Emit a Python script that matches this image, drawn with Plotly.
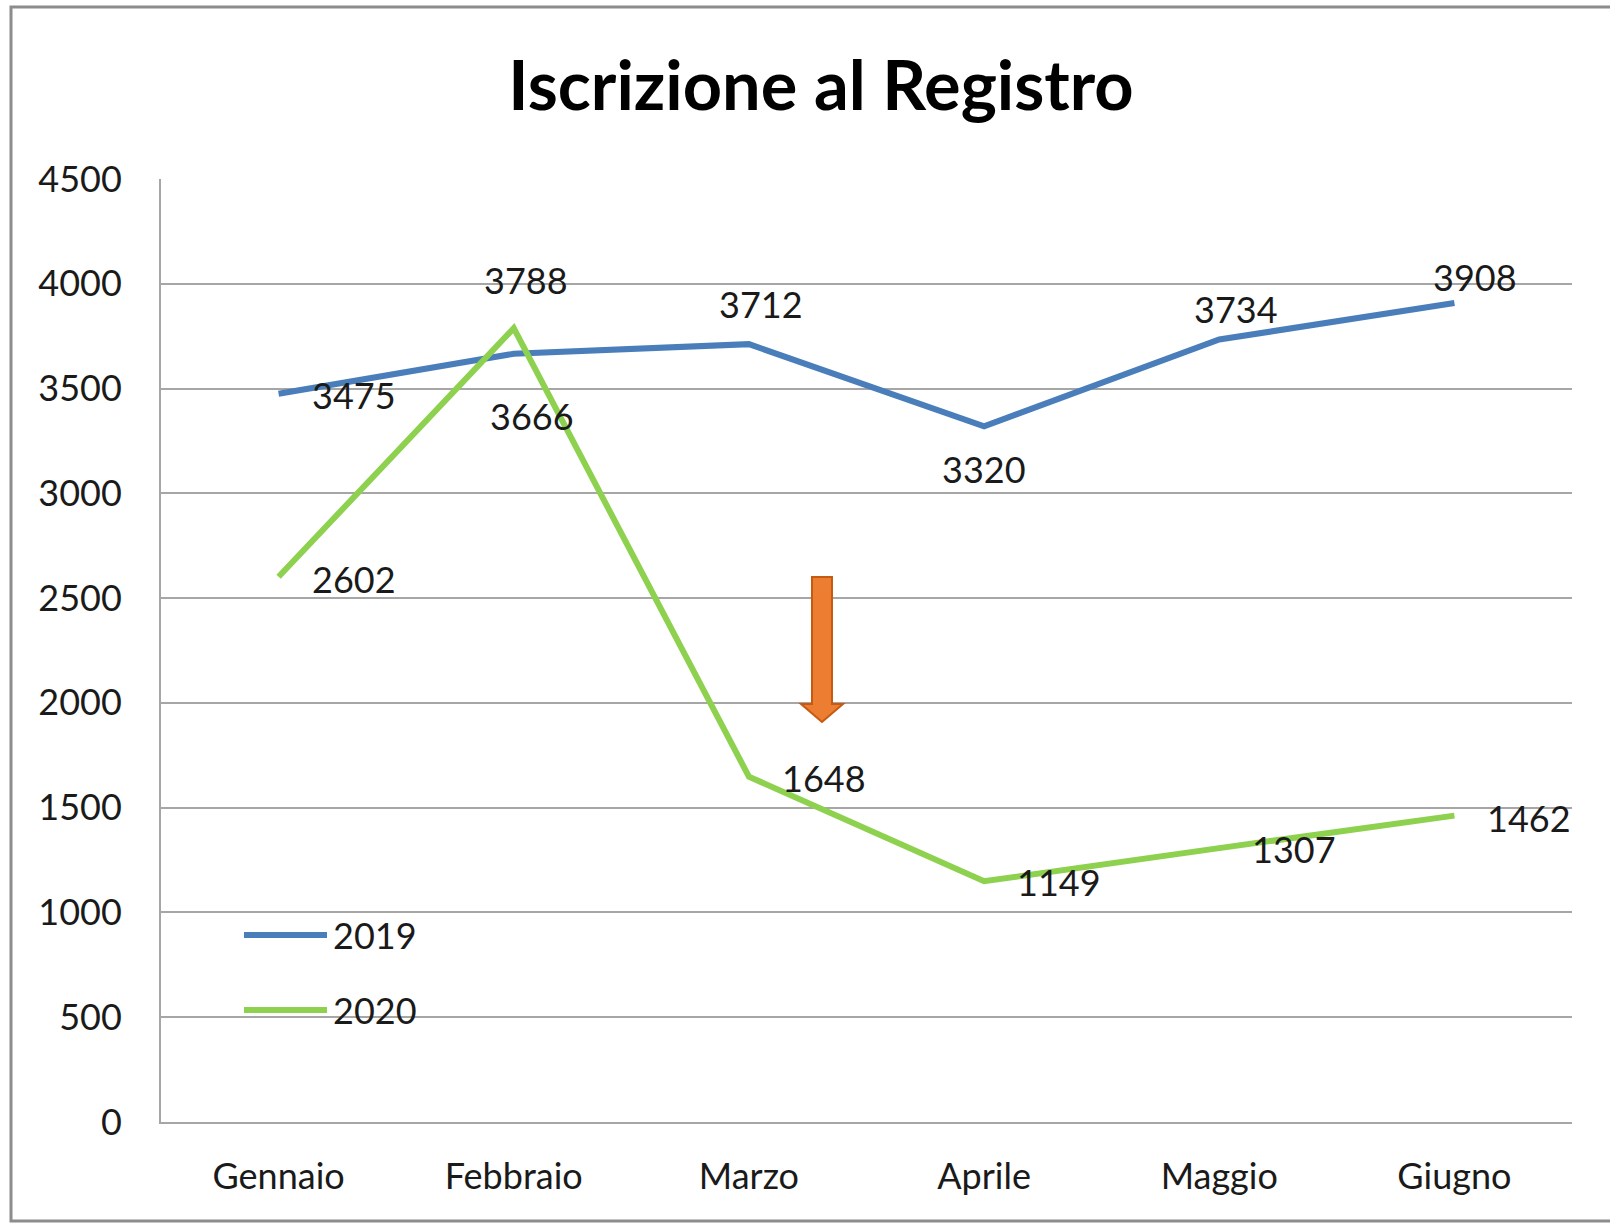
import plotly.graph_objects as go

months = ["Gennaio", "Febbraio", "Marzo", "Aprile", "Maggio", "Giugno"]
values_2019 = [3475, 3666, 3712, 3320, 3734, 3908]
values_2020 = [2602, 3788, 1648, 1149, 1307, 1462]
series_names = ["2019", "2020"]
y_ticks = [0, 500, 1000, 1500, 2000, 2500, 3000, 3500, 4000, 4500]

# label placement (pixel offsets relative to the point), kept apart from data
off_2019 = [("left", 31, -1), ("center", 18, -62), ("center", 12, 40),
            ("center", 0, -43), ("center", 17, 31), ("center", 21, 26)]
off_2020 = [("left", 31, -2), ("center", 12, 48), ("left", 31, -1),
            ("left", 31, -1), ("left", 31, -1), ("left", 31, -2)]

BLUE = "#4A7EBB"
GREEN = "#8DD14F"
FONT = "Lato"
W, H = 1610, 1224
L, R, T, B = 161, 38, 179, 102
PW, PH = W - L - R, H - T - B


def px(x):
    return (x - L) / PW


def py(y):
    return (H - B - y) / PH


fig = go.Figure()
fig.add_trace(go.Scatter(x=months, y=values_2019, mode="lines", name=series_names[0],
                         line=dict(color=BLUE, width=6), showlegend=False))
fig.add_trace(go.Scatter(x=months, y=values_2020, mode="lines", name=series_names[1],
                         line=dict(color=GREEN, width=6), showlegend=False))

annotations = []
for vals, offs in ((values_2019, off_2019), (values_2020, off_2020)):
    for m, v, (anc, dx, dy) in zip(months, vals, offs):
        annotations.append(dict(x=m, y=v, xref="x", yref="y", text=str(v), showarrow=False,
                                xanchor=anc, yanchor="middle", xshift=dx, yshift=dy,
                                font=dict(family=FONT, size=36, color="#1a1a1a")))

# manual legend
leg_y = [935, 1010]
leg_col = [BLUE, GREEN]
shapes = []
for name, yy, c in zip(series_names, leg_y, leg_col):
    shapes.append(dict(type="line", xref="paper", yref="paper", x0=px(244), x1=px(327),
                       y0=py(yy), y1=py(yy), line=dict(color=c, width=6)))
    annotations.append(dict(xref="paper", yref="paper", x=px(331), y=py(yy), text=name,
                            showarrow=False, xanchor="left", yanchor="middle",
                            font=dict(family=FONT, size=36, color="#1a1a1a")))

# orange down arrow
arrow = [(812, 577), (832, 577), (832, 704), (843, 704), (822, 722), (801, 704), (812, 704)]
path = "M " + " L ".join(f"{px(a):.5f},{py(b):.5f}" for a, b in arrow) + " Z"
shapes.append(dict(type="path", xref="paper", yref="paper", path=path,
                   fillcolor="#ED7D31", line=dict(color="#C55A11", width=2)))

# outer chart border
shapes.append(dict(type="rect", xref="paper", yref="paper", x0=px(11), x1=px(1700),
                   y0=py(1221), y1=py(7), line=dict(color="#8C8C8C", width=3),
                   fillcolor="rgba(0,0,0,0)", layer="below"))

fig.update_layout(
    width=W, height=H,
    margin=dict(l=L, r=R, t=T, b=B),
    paper_bgcolor="white", plot_bgcolor="white",
    title=dict(text="<b>Iscrizione al Registro</b>", x=821 / W, xref="container", xanchor="center",
               y=1 - 86 / H, yref="container", yanchor="middle",
               font=dict(family=FONT, size=68.5, color="black")),
    xaxis=dict(showgrid=False, showline=True, linecolor="#A6A6A6", linewidth=2,
               ticks="", tickfont=dict(family=FONT, size=36, color="#1a1a1a"),
               ticklabelstandoff=22, range=[-0.5, 5.5]),
    yaxis=dict(range=[0, 4500], tickvals=y_ticks, showgrid=True, gridcolor="#A6A6A6", gridwidth=1.5,
               showline=True, linecolor="#A6A6A6", linewidth=2, zeroline=False,
               ticks="", tickfont=dict(family=FONT, size=36, color="#1a1a1a"),
               ticklabelstandoff=30),
    annotations=annotations,
    shapes=shapes,
    showlegend=False,
)

fig.write_html("out.html", config={"displayModeBar": False},
               post_script="document.body.style.margin='0';document.body.style.overflow='hidden';")
